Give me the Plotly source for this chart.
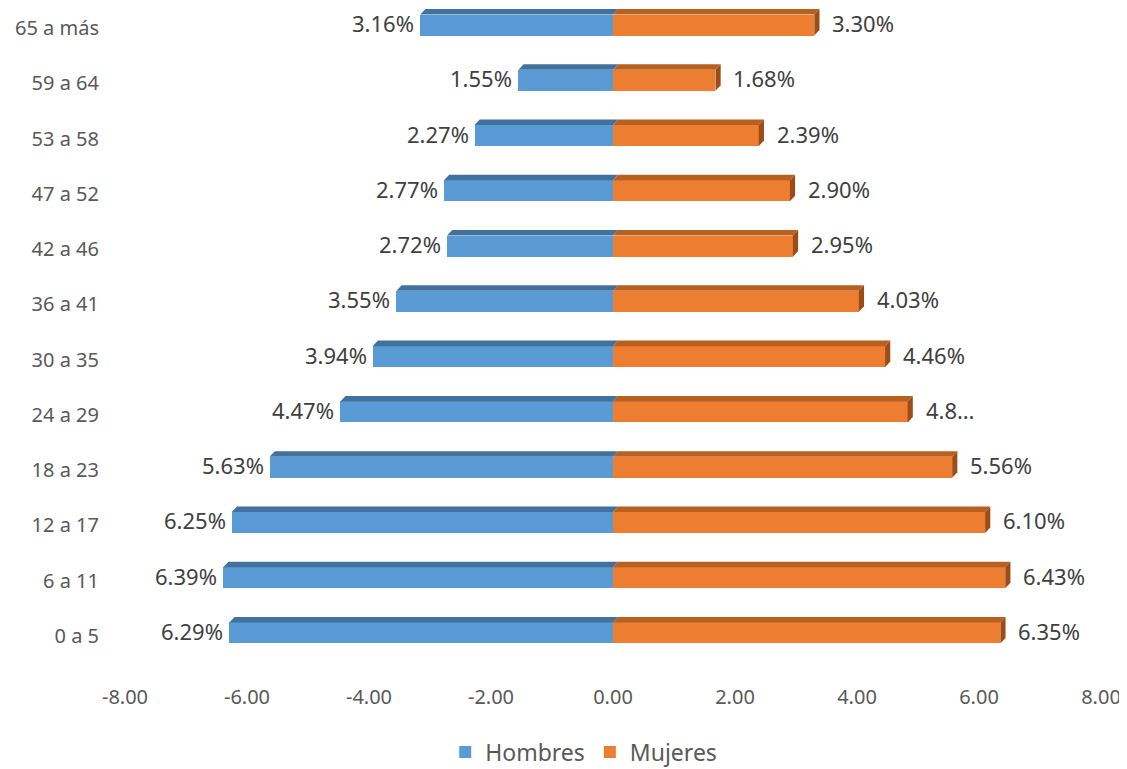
import plotly.graph_objects as go

categories = ["0 a 5", "6 a 11", "12 a 17", "18 a 23", "24 a 29", "30 a 35",
              "36 a 41", "42 a 46", "47 a 52", "53 a 58", "59 a 64", "65 a más"]
hombres = [6.29, 6.39, 6.25, 5.63, 4.47, 3.94, 3.55, 2.72, 2.77, 2.27, 1.55, 3.16]
mujeres = [6.35, 6.43, 6.10, 5.56, 4.83, 4.46, 4.03, 2.95, 2.90, 2.39, 1.68, 3.30]
mujeres_text = ["6.35%", "6.43%", "6.10%", "5.56%", "4.8…", "4.46%",
                "4.03%", "2.95%", "2.90%", "2.39%", "1.68%", "3.30%"]
hombres_text = [f"{v:.2f}%" for v in hombres]
xticks = [-8, -6, -4, -2, 0, 2, 4, 6, 8]

BLUE, BLUE_TOP = "#5B9BD5", "#41719C"
ORANGE, ORANGE_TOP, ORANGE_SIDE = "#ED7D31", "#B8601F", "#9C4C17"
W = 0.38      # bar thickness (category units)
DX = 0.085    # depth offset in x units
DY = 0.10     # depth offset in y units

ypos = list(range(len(categories)))

fig = go.Figure()
fig.add_trace(go.Bar(y=ypos, x=[-v for v in hombres], orientation="h", name="Hombres",
                     marker=dict(color=BLUE, line=dict(width=0)), width=W))
fig.add_trace(go.Bar(y=ypos, x=mujeres, orientation="h", name="Mujeres",
                     marker=dict(color=ORANGE, line=dict(width=0)), width=W))

shapes = []
for i, h in enumerate(hombres):
    top = i + W / 2
    shapes.append(dict(type="path", xref="x", yref="y", layer="above",
                       path=f"M {-h},{top} L 0,{top} L {DX},{top+DY} L {-h+DX},{top+DY} Z",
                       fillcolor=BLUE_TOP, line=dict(width=0)))
for i, m in enumerate(mujeres):
    top = i + W / 2
    bot = i - W / 2
    shapes.append(dict(type="path", xref="x", yref="y", layer="above",
                       path=f"M 0,{top} L {m},{top} L {m+DX},{top+DY} L {DX},{top+DY} Z",
                       fillcolor=ORANGE_TOP, line=dict(width=0)))
    shapes.append(dict(type="path", xref="x", yref="y", layer="above",
                       path=f"M {m},{bot} L {m},{top} L {m+DX},{top+DY} L {m+DX},{bot+DY} Z",
                       fillcolor=ORANGE_SIDE, line=dict(width=0)))

annotations = []
for i, (h, m) in enumerate(zip(hombres, mujeres)):
    annotations.append(dict(x=-h, y=i, xref="x", yref="y", text=hombres_text[i],
                            xanchor="right", yanchor="middle", xshift=-4, yshift=2,
                            showarrow=False, font=dict(size=22, color="#404040")))
    annotations.append(dict(x=m, y=i, xref="x", yref="y", text=mujeres_text[i],
                            xanchor="left", yanchor="middle", xshift=16, yshift=2,
                            showarrow=False, font=dict(size=22, color="#404040")))

fig.update_layout(
    width=1119, height=761,
    margin=dict(l=117, r=26, t=0, b=106, autoexpand=False),
    paper_bgcolor="white", plot_bgcolor="white",
    barmode="overlay", bargap=0,
    font=dict(family="Noto Sans, Open Sans, sans-serif", color="#595959"),
    shapes=shapes, annotations=annotations,
    showlegend=True,
    legend=dict(orientation="h", x=0.470, xanchor="center", y=-0.136, yanchor="middle",
                font=dict(size=23, color="#595959"), itemwidth=30),
    xaxis=dict(range=[-8, 8], tickvals=xticks, ticktext=[f"{t:.2f}" for t in xticks],
               showgrid=False, zeroline=False, showline=False, ticks="", automargin=False,
               tickfont=dict(size=20, color="#595959"), ticklabelstandoff=20),
    yaxis=dict(range=[-0.543, 11.308], tickvals=ypos, ticktext=categories,
               showgrid=False, zeroline=False, showline=False, ticks="", automargin=False,
               tickfont=dict(size=20, color="#595959"), ticklabelstandoff=25,
               ticklabelshift=3),
)

fig.write_html("out.html")
